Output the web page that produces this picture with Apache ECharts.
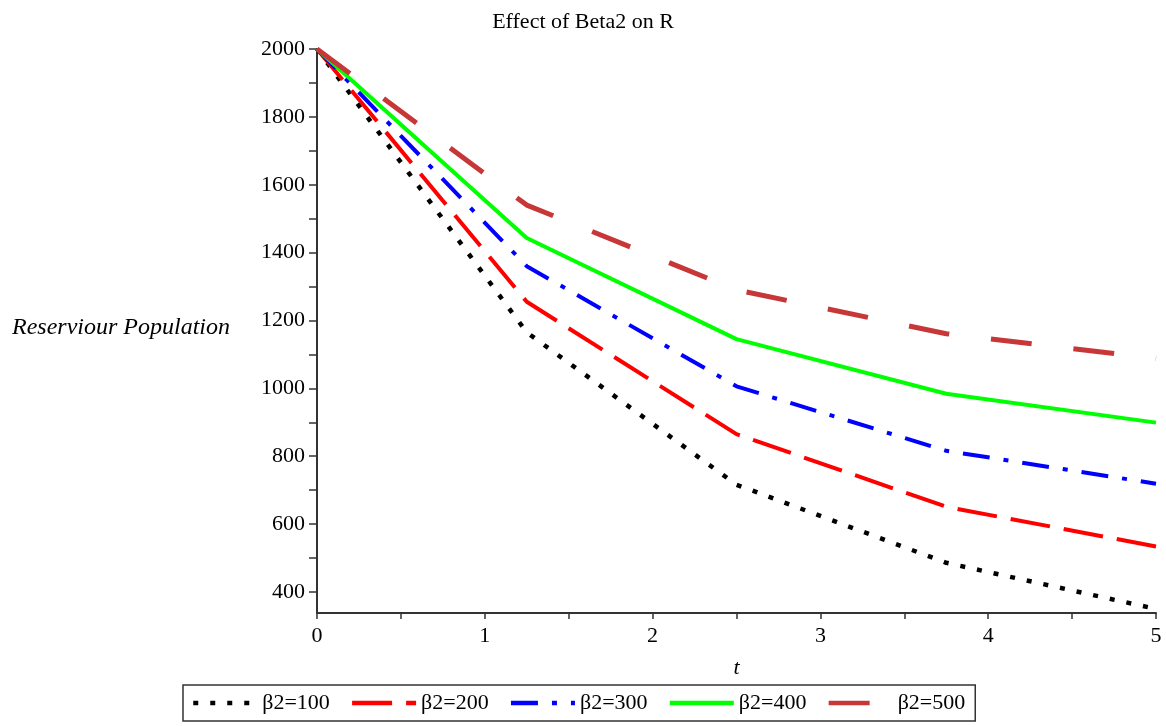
<!DOCTYPE html>
<html>
<head>
<meta charset="utf-8">
<script src="https://cdn.jsdelivr.net/npm/echarts@6/dist/echarts.min.js"></script>
<style>
html,body{margin:0;padding:0;background:#fff;}
#chart{width:1166px;height:727px;}
</style>
</head>
<body>
<div id="chart"></div>
<script>
// time points (t) and reservoir population for each beta2 value
var tValues = [0, 1.25, 2.5, 3.75, 5];
var legendNames = ['β2=100', 'β2=200', 'β2=300', 'β2=400', 'β2=500'];
var beta100 = [2000, 1165, 716, 486, 350];
var beta200 = [2000, 1255, 865, 651, 534];
var beta300 = [2000, 1360, 1006, 816, 719];
var beta400 = [2000, 1443, 1145, 984, 899];
var beta500 = [2000, 1540, 1290, 1161, 1088];
var yTickValues = [400, 500, 600, 700, 800, 900, 1000, 1100, 1200, 1300, 1400, 1500, 1600, 1700, 1800, 1900, 2000];
var yLabelValues = [400, 600, 800, 1000, 1200, 1400, 1600, 1800, 2000];

var serif = 'Liberation Serif';
var colors = ['#000000', '#ff0000', '#0000ff', '#00ff00', '#c83737'];
var dashes = [[5, 12], [40, 14], [27, 14, 5, 14], 'solid', [41, 42]];
var widths = [4.5, 4, 4, 4, 5];
var datalist = [beta100, beta200, beta300, beta400, beta500];

function pairs(vals) {
    var out = [];
    for (var i = 0; i < tValues.length; i++) {
        out.push([tValues[i], vals[i]]);
    }
    return out;
}

var series = [];
for (var i = 0; i < legendNames.length; i++) {
    series.push({
        name: legendNames[i],
        type: 'line',
        symbol: 'none',
        color: colors[i],
        lineStyle: {color: colors[i], width: widths[i], type: dashes[i], cap: 'butt'},
        data: pairs(datalist[i])
    });
}

var chart = echarts.init(document.getElementById('chart'));
var option = {
    animation: false,
    backgroundColor: '#fff',
    title: {
        text: 'Effect of Beta2 on R',
        left: 'center',
        top: 6,
        textStyle: {fontFamily: serif, fontSize: 22, fontWeight: 'normal', color: '#000'}
    },
    graphic: [{
        type: 'text',
        right: 936,
        top: 316,
        style: {text: 'Reserviour Population', fontFamily: serif, fontStyle: 'italic', fontSize: 24, fill: '#000'}
    }],
    legend: {
        data: legendNames,
        left: 183,
        top: 685,
        width: 820,
        padding: [7, 10, 7, 8],
        borderColor: '#333',
        borderWidth: 1.5,
        borderRadius: 0,
        itemWidth: 64,
        itemHeight: 14,
        itemGap: 20,
        itemStyle: {opacity: 0},
        lineStyle: {width: 4.5},
        textStyle: {fontFamily: serif, fontSize: 22, color: '#000'}
    },
    grid: {left: 317, right: 10, top: 49, bottom: 114, containLabel: false},
    xAxis: {
        type: 'value',
        min: 0,
        max: 5,
        interval: 0.5,
        name: 't',
        nameLocation: 'middle',
        nameGap: 44,
        nameTextStyle: {fontFamily: serif, fontStyle: 'italic', fontSize: 22, color: '#000'},
        axisLine: {lineStyle: {color: '#333', width: 2}},
        axisTick: {length: 6, lineStyle: {color: '#333', width: 1.5}},
        axisLabel: {
            fontFamily: serif, fontSize: 22, color: '#000', margin: 12,
            formatter: function (v) { return v % 1 === 0 ? String(v) : ''; }
        },
        splitLine: {show: false}
    },
    yAxis: {
        type: 'value',
        min: 338,
        max: 2000,
        axisLine: {show: true, lineStyle: {color: '#333', width: 2}},
        axisTick: {show: true, length: 8, customValues: yTickValues, lineStyle: {color: '#333', width: 1.5}},
        axisLabel: {
            fontFamily: serif, fontSize: 22, color: '#000', margin: 12, customValues: yLabelValues,
            formatter: function (v) { return String(v); }
        },
        splitLine: {show: false}
    },
    series: series
};
chart.setOption(option);
</script>
</body>
</html>
